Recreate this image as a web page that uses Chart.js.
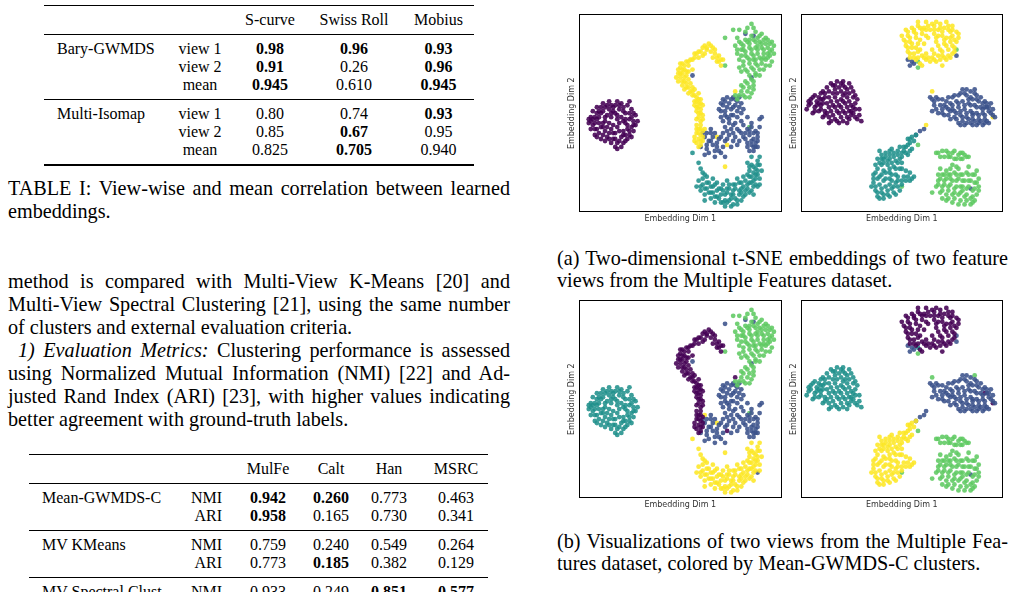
<!DOCTYPE html>
<html>
<head>
<meta charset="utf-8">
<script src="https://cdn.jsdelivr.net/npm/chart.js"></script>
<style>
  html, body { margin: 0; padding: 0; background: #fff; }
  body { position: relative; width: 1018px; height: 592px; overflow: hidden;
         font-family: 'Liberation Serif', 'Times New Roman', serif; color: #000; }
  .line { position: absolute; font-size: 20.2px; line-height: 22px; white-space: nowrap; }
  .j { text-align: justify; text-align-last: justify; }
  .tab { position: absolute; border-collapse: collapse; font-size: 16px; line-height: 18px;
         border-top: 1.5px solid #000; border-bottom: 2px solid #000; table-layout: fixed; }
  .tab td { padding: 0; text-align: center; vertical-align: middle; white-space: nowrap; }
  .tab td.m { text-align: left; padding-left: 13px; }
  .tab td.r { text-align: right; padding-right: 6px; }
  .tab tr.hd td { height: 28px; border-bottom: 1px solid #000; }
  .tab tr.first td { padding-top: 5px; }
  .tab tr.last td { padding-bottom: 5px; }
  .tab tr.sep td { border-top: 1px solid #000; }
  canvas { position: absolute; }
</style>
</head>
<body>

<table class="tab" style="left:44px;top:5px;width:430px">
  <colgroup><col style="width:121px"><col style="width:70px"><col style="width:70px"><col style="width:98px"><col style="width:71px"></colgroup>
  <tr class="hd"><td></td><td></td><td>S-curve</td><td>Swiss Roll</td><td>Mobius</td></tr>
  <tr class="first"><td class="m">Bary-GWMDS</td><td>view 1</td><td><b>0.98</b></td><td><b>0.96</b></td><td><b>0.93</b></td></tr>
  <tr><td></td><td>view 2</td><td><b>0.91</b></td><td>0.26</td><td><b>0.96</b></td></tr>
  <tr class="last"><td></td><td>mean</td><td><b>0.945</b></td><td>0.610</td><td><b>0.945</b></td></tr>
  <tr class="first sep"><td class="m">Multi-Isomap</td><td>view 1</td><td>0.80</td><td>0.74</td><td><b>0.93</b></td></tr>
  <tr><td></td><td>view 2</td><td>0.85</td><td><b>0.67</b></td><td>0.95</td></tr>
  <tr class="last"><td></td><td>mean</td><td>0.825</td><td><b>0.705</b></td><td>0.940</td></tr>
</table>

<div class="line j" style="left:8px;top:177px;width:502px;line-height:23px">TABLE I: View-wise and mean correlation between learned</div>
<div class="line" style="left:8px;top:200px;line-height:23px">embeddings.</div>

<div class="line j" style="left:8px;top:270px;width:502px;line-height:23px">method is compared with Multi-View K-Means [20] and</div>
<div class="line j" style="left:8px;top:293px;width:502px;line-height:23px">Multi-View Spectral Clustering [21], using the same number</div>
<div class="line" style="left:8px;top:316px;line-height:23px">of clusters and external evaluation criteria.</div>
<div class="line j" style="left:18px;top:339px;width:492px;line-height:23px"><i>1) Evaluation Metrics:</i> Clustering performance is assessed</div>
<div class="line j" style="left:8px;top:362px;width:502px;line-height:23px">using Normalized Mutual Information (NMI) [22] and Ad-</div>
<div class="line j" style="left:8px;top:385px;width:502px;line-height:23px">justed Rand Index (ARI) [23], with higher values indicating</div>
<div class="line" style="left:8px;top:408px;line-height:23px">better agreement with ground-truth labels.</div>

<table class="tab" style="left:29px;top:454px;width:459px">
  <colgroup><col style="width:141px"><col style="width:58px"><col style="width:80px"><col style="width:46px"><col style="width:70px"><col style="width:64px"></colgroup>
  <tr class="hd"><td></td><td></td><td>MulFe</td><td>Calt</td><td>Han</td><td>MSRC</td></tr>
  <tr class="first"><td class="m">Mean-GWMDS-C</td><td class="r">NMI</td><td><b>0.942</b></td><td><b>0.260</b></td><td>0.773</td><td>0.463</td></tr>
  <tr class="last"><td></td><td class="r">ARI</td><td><b>0.958</b></td><td>0.165</td><td>0.730</td><td>0.341</td></tr>
  <tr class="first sep"><td class="m">MV KMeans</td><td class="r">NMI</td><td>0.759</td><td>0.240</td><td>0.549</td><td>0.264</td></tr>
  <tr class="last"><td></td><td class="r">ARI</td><td>0.773</td><td><b>0.185</b></td><td>0.382</td><td>0.129</td></tr>
  <tr class="first sep"><td class="m">MV Spectral Clust.</td><td class="r">NMI</td><td>0.933</td><td>0.249</td><td><b>0.851</b></td><td><b>0.577</b></td></tr>
  <tr class="last"><td></td><td class="r">ARI</td><td>0.912</td><td>0.120</td><td>0.774</td><td>0.402</td></tr>
</table>

<canvas id="p1" width="217" height="212" style="left:567px;top:12px"></canvas>
<canvas id="p2" width="216" height="212" style="left:789px;top:12px"></canvas>
<canvas id="p3" width="217" height="212" style="left:567px;top:298px"></canvas>
<canvas id="p4" width="216" height="212" style="left:789px;top:298px"></canvas>

<div class="line j" style="left:557px;top:247px;width:451px">(a) Two-dimensional t-SNE embeddings of two feature</div>
<div class="line" style="left:557px;top:269px">views from the Multiple Features dataset.</div>
<div class="line j" style="left:557px;top:530px;width:451px">(b) Visualizations of two views from the Multiple Fea-</div>
<div class="line" style="left:557px;top:552px">tures dataset, colored by Mean-GWMDS-C clusters.</div>

<script>
// viridis colours for the five classes
const viridis = ['#440154', '#3b528b', '#21918c', '#5ec962', '#fde725'];

// ---- view 1 embedding (x, y in a 0..100 frame) ----
const v1Left = [[6,48],[5,45],[7,51],[9,53],[12,55],[15,56],[18,54],[21,55],[24,54],[26,52],[28,49],[29,46],[27,44],[25,41],[26,38],[23,36],[21,33],[19,35],[17,37],[14,38],[11,37],[8,39],[6,42],[8,45],[10,48],[12,51],[15,52],[18,50],[20,52],[23,50],[25,47],[22,46],[19,47],[16,48],[13,46],[11,43],[13,41],[16,42],[19,43],[22,41],[24,44],[21,38],[18,40],[15,45],[10,40],[9,50],[17,53],[26,48],[20,36],[14,49],[23,39],[12,45],[7,47],[27,41],[19,32],[16,35],[11,53],[22,53],[24,37],[8,42],
  [7,44],[9,47],[11,50],[13,53],[16,54],[19,56],[22,51],[25,50],[27,46],[24,42],[22,39],[20,41],[17,44],[14,43],[12,39],[9,42],[6,46],[10,45],[13,48],[16,50],[19,49],[21,48],[23,45],[26,43],[28,44],[25,39],[22,35],[18,37],[15,40],[12,43],[10,51],[14,54],[17,51],[20,45],[18,33],[15,37],[9,38],[5,47],[25,56],[27,50],[20,54],[13,36],[17,40],[23,47],[8,48]];
const v1Arc = [[62,84],[64,85],[66,83],[63,82],[60,81],[65,81],[67,80],[68,78],[69,76],[70,74],[71,77],[58,80],[57,78],[59,78],[55,77],[53,76],[51,75],[54,74],[50,73],[52,72],[49,70],[51,70],[53,69],[50,68],[52,66],[54,67],[49,66],[51,64],[53,63],[55,65],[55,61],[57,62],[56,59],[58,58],[57,56],[59,55],[60,57],[58,53],[60,52],[61,54],[59,50],[61,49],[58,47],[60,46],[59,42],[58,40],[60,39],[59,37],[61,36],[58,35],[60,34],[61,41],[57,38],[62,80],[56,72],[61,83],[59,60],[54,71],[66,78],
  [63,83],[65,84],[67,82],[69,79],[70,77],[68,76],[61,79],[59,81],[57,80],[56,77],[54,76],[52,74],[50,75],[51,72],[49,72],[53,71],[50,70],[52,68],[48,68],[51,66],[53,65],[54,63],[52,62],[56,63],[54,60],[56,61],[57,59],[58,56],[59,57],[57,54],[59,53],[60,55],[58,51],[60,50],[59,48],[61,47],[58,44],[60,44],[59,40],[57,36],[60,36],[59,33],[61,38],[58,42],[60,42]];
const v1Green = [[85,95],[86,93],[76,92],[79,92],[82,91],[90,90],[93,87],[95,86],[92,88],[88,88],[85,89],[82,87],[79,86],[81,84],[84,85],[87,86],[90,85],[93,83],[95,82],[94,79],[91,80],[88,82],[85,82],[82,81],[80,79],[78,80],[83,78],[86,79],[89,78],[92,77],[95,76],[90,75],[87,75],[84,75],[81,74],[79,73],[86,72],[89,72],[92,74],[83,71],[88,84],[91,82],[80,82],[86,77],[93,80],[84,87],[89,69],[85,67],[83,65],[81,63],[84,63],[80,61],[86,64],[79,59],[82,58],[85,60],[78,57],[96,80],[77,84],
  [83,93],[87,91],[89,89],[91,87],[94,85],[96,84],[90,83],[87,83],[84,83],[81,82],[78,82],[80,85],[83,86],[86,87],[89,86],[92,85],[94,81],[91,78],[88,80],[85,80],[82,79],[79,77],[81,76],[84,77],[87,77],[90,77],[93,78],[88,74],[85,73],[82,72],[80,71],[91,72],[94,74],[87,70],[84,69],[86,66],[82,66],[83,61],[81,59],[84,58],[80,64],[77,59],[86,62],[87,69],[78,88]];
const v1Mid = [[71,57],[73,58],[76,58],[78,56],[80,55],[77,54],[74,55],[71,54],[69,52],[72,51],[75,52],[78,51],[80,50],[76,49],[73,48],[70,48],[74,45],[77,45],[72,43],[75,42],[78,42],[71,40],[74,39],[77,38],[80,40],[79,36],[83,42],[85,43],[87,41],[84,39],[86,37],[88,36],[85,34],[87,33],[83,33],[86,31],[88,38],[82,37],[89,43],[65,42],[62,38],[64,36],[66,34],[63,32],[68,33],[70,30],[67,28],[72,28],[66,38],[69,37],[62,29],[61,40],[75,33],[80,46],[83,48],[90,48],[65,40],[72,36],[60,33],
  [72,56],[75,57],[77,57],[79,53],[76,53],[73,53],[70,51],[72,49],[75,49],[78,48],[74,47],[71,46],[76,44],[73,41],[76,40],[79,41],[81,44],[82,40],[84,41],[86,40],[88,40],[87,35],[85,36],[83,35],[86,33],[84,31],[88,33],[76,36],[73,37],[70,38],[68,35],[65,36],[63,34],[64,30],[67,31],[69,31],[71,33],[78,34],[81,38],[85,45],[70,55],[79,58],[81,52],[67,40],[63,40]];
const v1Bottom = [[59,16],[61,14],[60,11],[62,9],[63,12],[64,15],[66,13],[65,10],[67,8],[68,11],[70,12],[69,7],[71,5],[72,9],[73,12],[74,6],[75,9],[76,11],[77,7],[78,4],[79,9],[80,12],[81,8],[82,11],[83,14],[84,10],[82,16],[84,18],[85,15],[86,13],[87,17],[86,20],[88,19],[87,22],[89,24],[88,26],[85,24],[90,21],[84,21],[81,18],[79,15],[77,14],[74,14],[71,14],[68,15],[66,17],[63,18],[61,20],[60,22],[75,3],[72,3],[86,9],[89,14],[78,17],[67,5],[58,13],[83,25],[85,28],[73,16],[62,6],
  [60,13],[61,17],[62,12],[63,15],[64,10],[65,13],[66,10],[67,14],[68,8],[69,12],[70,9],[71,11],[72,6],[73,10],[74,12],[75,7],[76,9],[77,12],[78,6],[79,11],[80,10],[81,13],[82,9],[83,12],[84,15],[85,11],[85,18],[86,16],[87,14],[87,19],[88,21],[89,17],[86,23],[88,24],[89,28],[84,23],[83,19],[80,15],[76,14],[73,5],[70,5],[65,7],[62,19],[76,4],[80,6]];
const v1Stray = [[56,69],[85,68],[86,89],[89,47],[84,43],[68,38],[73,34],[72,23],[56,30],[59,25],[72,88],[72,74],[77,61],[62,42],[82,90],[88,13]];
const v1TrueColors = [0, 4, 3, 1, 2];
const v1ClustColors = [2, 0, 3, 1, 4];
const v1StrayTrue = [1,1,1,1,3,4,4,4,2,2,3,3,4,4,1,2];
const v1StrayClust = [1,1,1,1,3,4,0,4,4,4,1,3,0,4,1,1];

// ---- view 2 embedding ----
const v2Top = [[52,92],[55,93],[58,94],[61,93],[56,91],[53,89],[51,87],[54,86],[57,88],[60,90],[52,84],[55,83],[58,85],[53,81],[56,80],[59,82],[54,78],[57,77],[60,79],[62,77],[59,75],[62,80],[65,78],[67,76],[68,79],[71,78],[74,78],[70,81],[73,82],[76,83],[77,86],[74,86],[71,85],[68,84],[72,88],[75,89],[77,91],[73,92],[70,91],[68,89],[66,94],[69,95],[72,96],[75,94],[64,92],[66,90],[63,88],[61,85],[67,86],[64,76],[65,82],[75,80],[78,88],[62,96],[58,96],[50,89],[60,74],[70,74],
  [53,91],[56,92],[59,93],[62,92],[54,88],[57,90],[59,87],[52,86],[55,85],[57,83],[53,83],[54,80],[56,78],[58,78],[58,81],[61,78],[63,78],[66,77],[69,77],[72,77],[73,79],[70,79],[76,81],[75,84],[72,84],[69,82],[66,80],[71,87],[74,88],[76,87],[78,90],[74,91],[71,93],[68,92],[66,92],[69,93],[73,94],[75,92],[65,95],[67,96],[63,94],[60,92],[67,88],[70,89],[62,89]];
const v2Left = [[15,65],[18,66],[21,64],[24,65],[13,63],[17,62],[20,61],[23,62],[26,61],[10,60],[7,59],[5,57],[8,56],[11,57],[14,58],[17,58],[20,57],[23,58],[26,58],[28,57],[4,54],[7,53],[10,54],[13,55],[16,54],[19,54],[22,55],[25,54],[27,52],[6,50],[9,51],[12,51],[15,51],[18,51],[21,51],[24,51],[11,48],[14,48],[17,47],[20,48],[23,48],[19,45],[25,49],[28,47],[30,46],[29,49],[16,60],[9,55],[22,60],[12,60],[27,55],[3,52],[14,45],[21,66],
  [16,64],[19,63],[22,63],[25,63],[14,61],[11,61],[18,60],[21,59],[24,60],[27,59],[6,58],[9,58],[12,58],[15,56],[18,56],[21,56],[24,56],[5,55],[8,54],[11,55],[14,53],[17,53],[20,53],[23,53],[26,53],[7,51],[10,52],[13,50],[16,49],[19,50],[22,50],[25,51],[12,49],[15,46],[18,46],[21,46],[24,47],[27,48],[26,50],[20,65],[17,64],[10,57],[4,56],[29,52],[23,45]];
const v2Right = [[64,58],[67,58],[70,57],[66,56],[69,54],[65,51],[68,50],[71,49],[73,58],[76,59],[79,60],[82,59],[85,57],[88,56],[74,55],[77,56],[80,56],[83,55],[86,54],[89,53],[92,53],[75,52],[78,53],[81,52],[84,51],[87,50],[90,50],[93,51],[95,49],[73,49],[76,48],[79,49],[82,48],[85,47],[88,47],[91,47],[78,45],[81,44],[84,45],[87,44],[90,44],[93,45],[74,51],[72,53],[94,55],[91,56],[82,62],[86,60],[80,46],[89,58],[77,50],[70,52],[83,57],[96,48],[85,50],
  [65,57],[68,57],[66,54],[67,52],[70,50],[72,56],[75,58],[78,59],[81,60],[84,58],[87,57],[90,55],[75,54],[78,55],[81,54],[84,54],[87,53],[90,52],[93,53],[76,51],[79,51],[82,50],[85,49],[88,49],[91,49],[94,50],[74,47],[77,47],[80,48],[83,47],[86,46],[89,46],[92,46],[79,44],[82,45],[85,44],[88,45],[91,45],[73,52],[71,54],[95,52],[92,55],[80,62],[84,61],[87,59]];
const v2Low = [[55,38],[53,37],[54,35],[52,33],[55,32],[51,31],[53,29],[50,28],[48,31],[46,30],[44,31],[42,30],[40,29],[39,31],[41,27],[44,27],[47,26],[50,25],[43,24],[46,23],[40,24],[38,27],[49,22],[47,19],[44,20],[41,21],[38,22],[36,19],[39,18],[42,17],[45,16],[48,16],[51,18],[54,16],[56,18],[36,15],[39,14],[42,13],[45,12],[48,13],[37,11],[40,10],[43,9],[46,10],[41,7],[38,8],[35,13],[50,14],[44,14],[52,21],[57,39],[49,33],[37,24],[47,9],[54,20],
  [54,37],[53,34],[51,33],[54,31],[52,30],[50,30],[48,29],[46,28],[44,29],[42,28],[40,27],[43,26],[45,25],[48,25],[41,25],[39,25],[44,22],[47,22],[50,22],[42,20],[45,19],[48,18],[40,19],[37,20],[38,17],[41,16],[44,17],[47,15],[50,16],[53,18],[55,17],[37,13],[40,12],[43,11],[46,13],[49,11],[38,10],[41,9],[44,8],[39,7],[36,17],[52,16],[56,36],[49,27],[45,32]];
const v2Corner = [[67,30],[70,31],[73,30],[76,31],[79,30],[81,29],[83,28],[71,28],[74,28],[77,27],[80,27],[75,24],[78,22],[72,21],[70,19],[73,19],[76,20],[79,19],[82,20],[85,19],[87,21],[68,16],[71,16],[74,17],[77,16],[80,16],[83,16],[86,15],[88,13],[67,13],[70,13],[73,13],[76,12],[79,13],[82,12],[85,11],[87,9],[69,10],[72,9],[75,9],[78,9],[81,8],[84,7],[72,6],[75,5],[78,4],[81,4],[84,4],[86,6],[70,7],[65,10],[88,17],[83,23],[69,22],[80,11],
  [68,30],[72,31],[75,30],[78,29],[80,30],[82,28],[69,28],[73,28],[76,27],[79,27],[77,23],[74,22],[71,19],[74,19],[77,19],[80,19],[83,19],[86,19],[69,17],[72,17],[75,16],[78,17],[81,16],[84,16],[87,15],[68,14],[71,14],[74,14],[77,13],[80,13],[83,13],[86,12],[88,11],[70,11],[73,11],[76,10],[79,10],[82,9],[85,8],[73,7],[76,7],[79,6],[82,6],[85,5],[68,19]];
const v2Stray = [[53,77],[55,76],[54,74],[56,75],[58,76],[58,73],[77,82],[77,79],[65,61],[95,48],[62,44],[61,42],[59,41],[57,39],[58,34],[50,13],[84,12],[86,62],[91,53]];
const v2TrueColors = [4, 0, 1, 2, 3];
const v2ClustColors = [0, 2, 1, 4, 3];
const v2StrayTrue = [1,1,1,1,3,3,3,1,4,4,4,1,1,1,3,3,1,1,1];
const v2StrayClust = [1,1,1,1,2,3,1,1,3,0,1,1,1,1,3,3,1,3,0];

const frame = {
    id: 'frame',
    afterDraw(chart) {
        const a = chart.chartArea, ctx = chart.ctx;
        ctx.save();
        ctx.strokeStyle = '#000';
        ctx.lineWidth = 1;
        ctx.strokeRect(Math.round(a.left) + 0.5, Math.round(a.top) + 0.5,
            Math.round(a.right - a.left) - 1, Math.round(a.bottom - a.top) - 1);
        ctx.restore();
    }
};

function toPoints(list) {
    return list.map(p => ({x: p[0], y: p[1]}));
}

function drawEmbedding(id, clusters, colors, stray, strayColors) {
    const datasets = clusters.map((c, i) => ({
        data: toPoints(c),
        backgroundColor: viridis[colors[i]] + 'e0',
        pointRadius: 2.4,
        borderWidth: 0
    }));
    datasets.push({
        data: toPoints(stray),
        backgroundColor: strayColors.map(k => viridis[k] + 'e0'),
        pointRadius: 2.4,
        borderWidth: 0
    });
    const titleFont = {family: 'DejaVu Sans', size: 8};
    new Chart(document.getElementById(id), {
        type: 'scatter',
        data: {datasets: datasets},
        options: {
            responsive: false,
            animation: false,
            events: [],
            layout: {padding: {top: 2, right: 2, left: 0, bottom: 0}, autoPadding: false},
            plugins: {legend: {display: false}, tooltip: {enabled: false}},
            scales: {
                x: {
                    type: 'linear', min: 0, max: 100,
                    ticks: {display: false},
                    grid: {display: false, drawTicks: false},
                    border: {display: false},
                    title: {display: true, text: 'Embedding Dim 1', font: titleFont, color: '#333', padding: {top: 2, bottom: 0}}
                },
                y: {
                    type: 'linear', min: 0, max: 100,
                    ticks: {display: false},
                    grid: {display: false, drawTicks: false},
                    border: {display: false},
                    title: {display: true, text: 'Embedding Dim 2', font: titleFont, color: '#333', padding: {top: 0, bottom: 2}}
                }
            }
        },
        plugins: [frame]
    });
}

const view1 = [v1Left, v1Arc, v1Green, v1Mid, v1Bottom];
const view2 = [v2Top, v2Left, v2Right, v2Low, v2Corner];

drawEmbedding('p1', view1, v1TrueColors, v1Stray, v1StrayTrue);
drawEmbedding('p2', view2, v2TrueColors, v2Stray, v2StrayTrue);
drawEmbedding('p3', view1, v1ClustColors, v1Stray, v1StrayClust);
drawEmbedding('p4', view2, v2ClustColors, v2Stray, v2StrayClust);
</script>
</body>
</html>
